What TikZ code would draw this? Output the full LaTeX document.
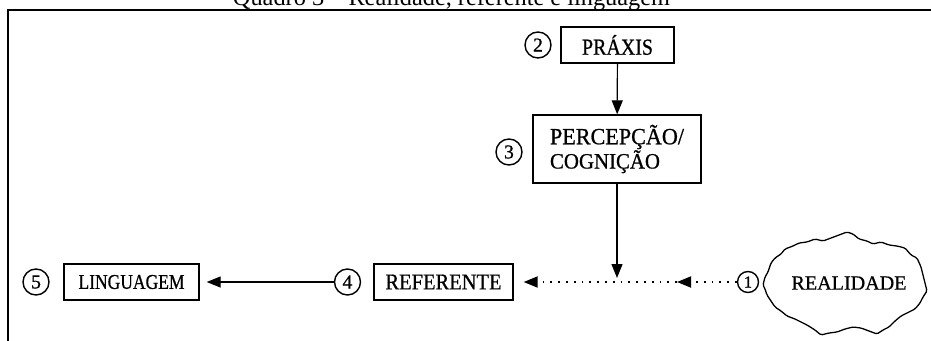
\documentclass[tikz,border=0pt]{standalone}
\usepackage{fontspec}
\setmainfont{Liberation Serif}
\newfontfamily\scanfont[FakeBold=0.8]{Liberation Serif}
\usetikzlibrary{arrows.meta}
\newcommand{\wtxt}[3]{\scalebox{1}[#1]{\resizebox{#2}{!}{\scanfont #3}}}
\newcommand{\dig}[2]{\resizebox{!}{#1}{\scanfont #2}}
\begin{document}
\begin{tikzpicture}[x=1pt,y=-1pt,
  stepbox/.style={draw, line width=1.3pt, inner sep=0pt},
  num/.style={circle, draw, line width=1.4pt, minimum size=26pt, inner sep=0pt},
  arr/.style={line width=1.2pt, -{Triangle[width=11pt,length=14pt]}},
  dotline/.style={line width=1.8pt, dash pattern=on 1.8pt off 6pt, -{Triangle[width=11pt,length=14pt]}}
]
\useasboundingbox (0,0) rectangle (931,340);
\node[anchor=base, inner sep=0pt] (title) at (451.5,5.5) {\resizebox{437pt}{!}{Quadro 3 -- Realidade, referente e linguagem}};
\draw[line width=2pt] (8,345) |- (935,10);

\node[stepbox, minimum width=113pt, minimum height=36pt] (praxis) at (617.5,45) {\wtxt{1.15}{71pt}{PRÁXIS}};
\node[num] (n2) at (538,45) {\dig{13pt}{2}};
\node[stepbox, minimum width=168pt, minimum height=68pt, align=left] (percep) at (617,149) {\wtxt{1.05}{134pt}{PERCEPÇÃO/}\\\wtxt{1.05}{110pt}{COGNIÇÃO}};
\node[num] (n3) at (509,152) {\dig{13pt}{3}};
\node[stepbox, minimum width=139pt, minimum height=36pt] (ref) at (443.5,282) {\wtxt{1.1}{116pt}{REFERENTE}};
\node[num] (n4) at (347.5,282) {\dig{13pt}{4}};
\node[stepbox, minimum width=135pt, minimum height=36pt] (ling) at (131.5,282) {\wtxt{1.2}{106pt}{LINGUAGEM}};
\node[num] (n5) at (36,282) {\dig{13pt}{5}};
\node[num, minimum size=21pt] (n1) at (748,282) {\dig{11pt}{1}};

\begin{scope}[shift={(845,283)}]
\draw[line width=1.3pt, rounded corners=1.5pt]
  (-82,2) -- (-80,-6) -- (-77,-11) -- (-74,-20) -- (-70,-25) -- (-64,-29) -- (-60,-34) -- (-52,-37) -- (-46,-40) -- (-38,-41) -- (-30,-44) -- (-22,-42) -- (-14,-45) -- (-6,-48) -- (2,-51) -- (8,-49) -- (14,-44) -- (22,-42) -- (28,-39) -- (36,-41) -- (44,-38) -- (52,-37) -- (60,-35) -- (66,-28) -- (72,-25) -- (76,-16) -- (78,-8) -- (80,0) -- (82,8) -- (78,14) -- (75,20) -- (70,26) -- (62,30) -- (56,33) -- (50,38) -- (44,44) -- (38,47) -- (32,51) -- (24,48) -- (16,45) -- (8,44) -- (0,46) -- (-8,49) -- (-16,50) -- (-24,52) -- (-30,47) -- (-38,42) -- (-44,39) -- (-50,36) -- (-58,33) -- (-64,28) -- (-70,24) -- (-74,18) -- (-78,12) -- (-80,6) -- cycle;
\end{scope}
\node[inner sep=0pt] (real) at (849,283) {\wtxt{1.0}{115pt}{REALIDADE}};

\coordinate (join) at (617,278);
\coordinate (mid) at (677,282);
\coordinate (refend) at ([xshift=10pt]ref.east);
\coordinate (lingend) at ([xshift=7pt]ling.east);
\draw[arr] (praxis) -- (percep);
\draw[arr] (percep) -- (join);
\draw[dotline] (n1) -- (mid);
\draw[dotline] (mid) -- (refend);
\draw[arr] (n4) -- (lingend);
\end{tikzpicture}
\end{document}
